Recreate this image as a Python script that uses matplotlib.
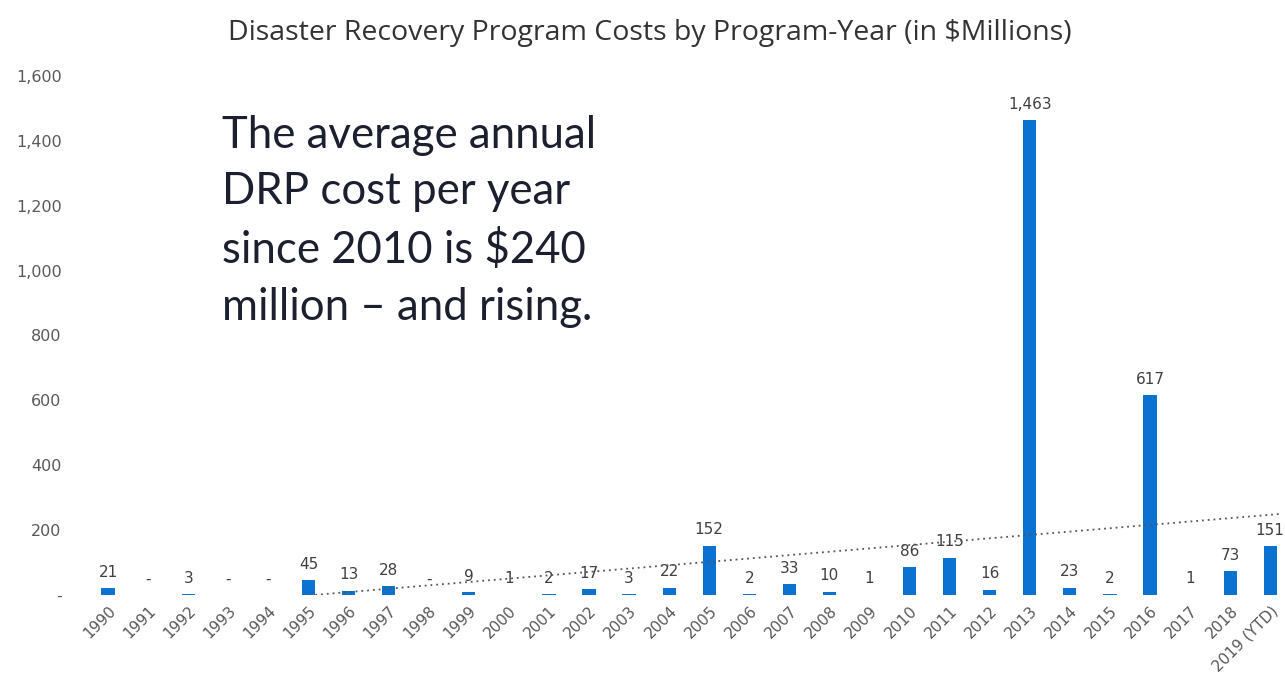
import numpy as np
import matplotlib
matplotlib.use("Agg")
import matplotlib.pyplot as plt

# Program-year labels and costs ($ millions); 0 shown as "-"
years = ["1990", "1991", "1992", "1993", "1994", "1995", "1996", "1997", "1998", "1999",
         "2000", "2001", "2002", "2003", "2004", "2005", "2006", "2007", "2008", "2009",
         "2010", "2011", "2012", "2013", "2014", "2015", "2016", "2017", "2018", "2019 (YTD)"]
costs = [21, 0, 3, 0, 0, 45, 13, 28, 0, 9,
         1, 2, 17, 3, 22, 152, 2, 33, 10, 1,
         86, 115, 16, 1463, 23, 2, 617, 1, 73, 151]
y_ticks = [0, 200, 400, 600, 800, 1000, 1200, 1400, 1600]

title = "Disaster Recovery Program Costs by Program-Year (in $Millions)"
callout = "The average annual\nDRP cost per year\nsince 2010 is $240\nmillion \u2013 and rising."

plt.rcParams["font.family"] = ["DejaVu Sans"]

fig = plt.figure(figsize=(12.85, 6.94), dpi=100)
ax = fig.add_axes([0.0685, 0.1427, 0.93, 0.7478])

x = np.arange(len(years))
bar_color = "#0B72D1"
ax.bar(x, costs, width=0.33, color=bar_color, zorder=2)

# data labels
for xi, v in zip(x, costs):
    lbl = "-" if v == 0 else f"{v:,}"
    ax.annotate(lbl, (xi, v), xytext=(0, 6), textcoords="offset points",
                ha="center", va="bottom", fontsize=11, color="#404040")

# linear trendline (dotted)
slope, icpt = np.polyfit(x, costs, 1)
tx = np.linspace(0, len(years) - 0.7, 200)
ax.plot(tx, slope * tx + icpt, linestyle=(0, (1, 2.2)), color="#555555",
        linewidth=1.3, zorder=3)

ax.set_xlim(-0.5, 29.32)
ax.set_ylim(0, 1600)
ax.set_yticks(y_ticks)
ax.set_yticklabels(["-" if t == 0 else f"{t:,}" for t in y_ticks])
ax.set_xticks(x)
ax.set_xticklabels(years, rotation=45, ha="right", rotation_mode="anchor")
ax.tick_params(axis="y", length=0, pad=19, labelsize=11.5, labelcolor="#595959")
ax.tick_params(axis="x", length=0, pad=6, labelsize=11, labelcolor="#595959")
for s in ax.spines.values():
    s.set_visible(False)

fig.text(0.506, 0.952, title, ha="center", va="center", fontsize=20.5,
         color="#333333", family=["Open Sans", "DejaVu Sans"])
fig.text(0.173, 0.835, callout, ha="left", va="top", fontsize=31.5,
         color="#1b1f2e", linespacing=1.48, family=["Lato", "DejaVu Sans"])

fig.savefig("out.png", dpi=100, facecolor="white")
